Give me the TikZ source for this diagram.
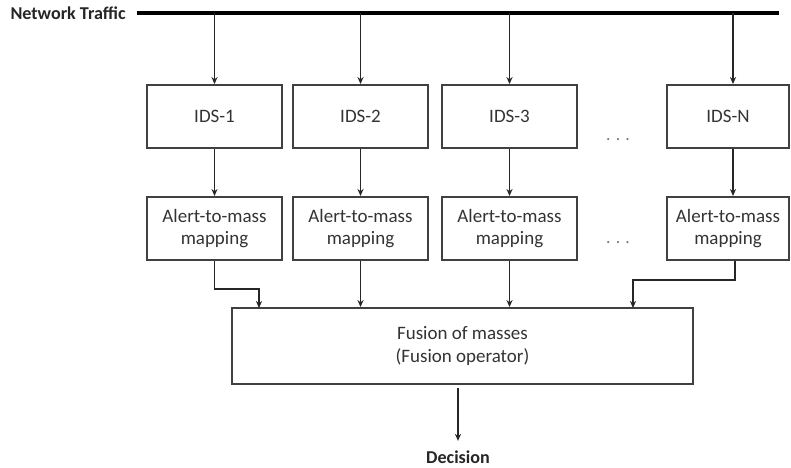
\documentclass[tikz,border=0pt]{standalone}
\usepackage{fontspec}
\setmainfont{Carlito}
\usetikzlibrary{positioning,arrows.meta}

\tikzset{
  block/.style={rectangle, draw=black!75, line width=1.1pt,
    minimum width=2.7cm, minimum height=1.26cm,
    text=black!80, align=center,
    font=\fontsize{10.8}{12.6}\selectfont},
  flow/.style={-{Stealth[length=4pt,width=3.5pt]},
    line width=0.95pt, draw=black!85},
  moredots/.style={text=black!55, font=\fontsize{10}{12}\selectfont},
}

\begin{document}
\begin{tikzpicture}

    \useasboundingbox (0,0) rectangle (15.82,-9.36);

    % traffic bus
    \coordinate (busL) at (2.74,-0.26);
    \coordinate (busR) at (15.58,-0.26);
    \node[anchor=east, inner sep=0pt, text=black!85,
      font=\bfseries\fontsize{10.3}{12}\selectfont] (net) at (2.52,-0.26) {Network Traffic};
    \draw[line width=2.4pt] (busL)--(busR);

    % detectors
    \node[block] (ids1) at (4.29,-2.33) {IDS-1};
    \node[block] (ids2) at (7.21,-2.33) {IDS-2};
    \node[block] (ids3) at (10.19,-2.33) {IDS-3};
    \node[block, minimum width=2.44cm] (idsn) at (14.56,-2.33) {IDS-N};

    \node[moredots] (dots1) at (12.36,-2.8) {. . .};

    % mappings
    \node[block, below=0.94cm of ids1] (map1) {Alert-to-mass\\mapping};
    \node[block, below=0.94cm of ids2] (map2) {Alert-to-mass\\mapping};
    \node[block, below=0.94cm of ids3] (map3) {Alert-to-mass\\mapping};
    \node[block, minimum width=2.44cm,
      below=0.94cm of idsn] (mapn) {Alert-to-mass\\mapping};

    \node[moredots] (dots2) at (12.36,-4.86) {. . .};

    % fusion
    \node[block, minimum width=9.22cm, minimum height=1.52cm,
      font=\fontsize{10.8}{13}\selectfont] (fusion) at (9.25,-6.92)
      {Fusion of masses\\(Fusion operator)};

    \coordinate (in1) at (5.18,-6.16);
    \coordinate (in4) at (12.66,-6.16);

    \node[text=black!85,
      font=\bfseries\fontsize{10.3}{12}\selectfont] (dec) at (9.16,-9.14) {Decision};

    \draw[flow] (ids1.north |- busL)--(ids1.north);
    \draw[flow] (ids2.north |- busL)--(ids2.north);
    \draw[flow] (ids3.north |- busL)--(ids3.north);
    \draw[flow] ([xshift=1mm]idsn.north |- busL)--([xshift=1mm]idsn.north);

    \draw[flow] (ids1)--(map1);
    \draw[flow] (ids2)--(map2);
    \draw[flow] (ids3)--(map3);
    \draw[flow] ([xshift=1mm]idsn.south)--([xshift=1mm]mapn.north);

    \draw[flow] (map1.south) -- ++(0,-0.56) -| (in1);
    \draw[flow] (map2.south) -- (map2.south |- fusion.north);
    \draw[flow] (map3.south) -- (map3.south |- fusion.north);
    \draw[flow] ([xshift=1.4mm]mapn.south) -- ++(0,-0.38) -| (in4);

    \draw[flow, shorten <=2pt, shorten >=2pt] (fusion.south -| dec)--(dec.north);
\end{tikzpicture}
\end{document}
